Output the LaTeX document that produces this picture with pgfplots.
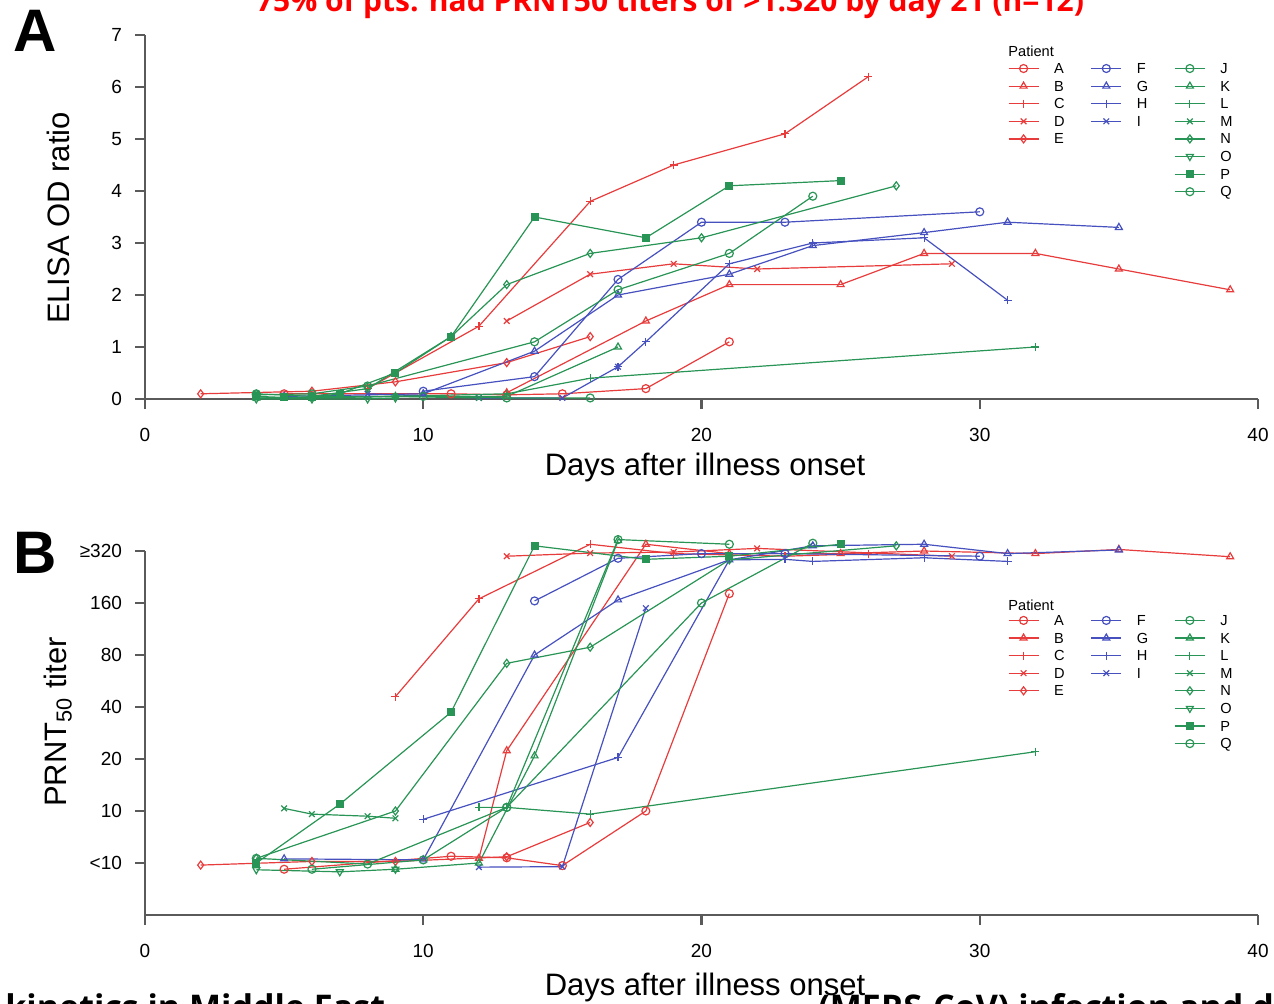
\documentclass[border=0pt]{standalone}
\usepackage{fontspec}
\setmainfont{Liberation Sans}
\newfontfamily\titlefont{Open Sans}
\usepackage{pgfplots}
\pgfplotsset{compat=1.18}
\definecolor{cr}{RGB}{232,60,60}
\definecolor{cb}{RGB}{70,80,190}
\definecolor{cg}{RGB}{40,148,85}
\definecolor{axgray}{RGB}{90,90,90}
\pgfplotsset{
  sA/.style={cr,mark=o}, sB/.style={cr,mark=triangle}, sC/.style={cr,mark=+},
  sD/.style={cr,mark=x}, sE/.style={cr,mark=diamond},
  sF/.style={cb,mark=o}, sG/.style={cb,mark=triangle}, sH/.style={cb,mark=+}, sI/.style={cb,mark=x},
  sJ/.style={cg,mark=o}, sK/.style={cg,mark=triangle}, sL/.style={cg,mark=+}, sM/.style={cg,mark=x},
  sN/.style={cg,mark=diamond}, sO/.style={cg,mark=triangle,mark options={rotate=180}},
  sP/.style={cg,mark=square*,mark size=1.7pt}, sQ/.style={cg,mark=o},
  panel/.style={
    scale only axis, width=556.5pt, height=182pt, xmin=0, xmax=40,
    axis x line*=bottom, axis y line*=left,
    axis line style={axgray,line width=1.1pt},
    every tick/.style={axgray,line width=1.1pt},
    major tick length=5pt, tick align=outside,
    xtick={0,10,20,30,40},
    ticklabel style={font=\fontsize{9.5}{10}\selectfont},
    xticklabel style={yshift=-6pt},
    yticklabel style={xshift=-3pt},
    /pgf/number format/assume math mode=true,
    clip=false,
    every axis plot/.append style={line width=0.6pt, mark size=2pt},
    legend image code/.code={\draw[mark repeat=2,mark phase=2,##1] plot coordinates {(0pt,0pt) (7.5pt,0pt) (15pt,0pt)};},
    legend columns=8, transpose legend, legend cell align=left,
    legend style={draw=none, fill=none, anchor=north west, inner sep=0pt,
      font=\fontsize{7.3}{7.3}\selectfont, row sep=2.2pt,
      nodes={inner sep=0.5pt, text height=5.3pt, text depth=0.3pt},
      /tikz/every odd column/.append style={column sep=7pt},
      /tikz/every even column/.append style={column sep=12.5pt}},
  }
}
\newcommand{\patientlegend}{%
  \addlegendimage{sA}\addlegendentry{A}
  \addlegendimage{sB}\addlegendentry{B}
  \addlegendimage{sC}\addlegendentry{C}
  \addlegendimage{sD}\addlegendentry{D}
  \addlegendimage{sE}\addlegendentry{E}
  \addlegendimage{empty legend}\addlegendentry{}
  \addlegendimage{empty legend}\addlegendentry{}
  \addlegendimage{empty legend}\addlegendentry{}
  \addlegendimage{sF}\addlegendentry{F}
  \addlegendimage{sG}\addlegendentry{G}
  \addlegendimage{sH}\addlegendentry{H}
  \addlegendimage{sI}\addlegendentry{I}
  \addlegendimage{empty legend}\addlegendentry{}
  \addlegendimage{empty legend}\addlegendentry{}
  \addlegendimage{empty legend}\addlegendentry{}
  \addlegendimage{empty legend}\addlegendentry{}
  \addlegendimage{sJ}\addlegendentry{J}
  \addlegendimage{sK}\addlegendentry{K}
  \addlegendimage{sL}\addlegendentry{L}
  \addlegendimage{sM}\addlegendentry{M}
  \addlegendimage{sN}\addlegendentry{N}
  \addlegendimage{sO}\addlegendentry{O}
  \addlegendimage{sP}\addlegendentry{P}
  \addlegendimage{sQ}\addlegendentry{Q}
}
\begin{document}
\begin{tikzpicture}
% ---------- Panel A ----------
\begin{axis}[panel, at={(72.5pt,302pt)}, anchor=south west,
  ymin=0, ymax=7, ytick={0,1,...,7},
  legend style={at={(axis cs:31,6.49)}}]
\addplot[sA,forget plot] coordinates {(5,0.1) (11,0.1) (13,0.08) (15,0.1) (18,0.2) (21,1.1)};
\addplot[sB,forget plot] coordinates {(13,0.12) (18,1.5) (21,2.2) (25,2.2) (28,2.8) (32,2.8) (35,2.5) (39,2.1)};
\addplot[sC,forget plot] coordinates {(8,0.2) (12,1.4) (16,3.8) (19,4.5) (23,5.1) (26,6.2)};
\addplot[sD,forget plot] coordinates {(13,1.5) (16,2.4) (19,2.6) (22,2.5) (29,2.6)};
\addplot[sE,forget plot] coordinates {(2,0.1) (6,0.15) (9,0.33) (13,0.7) (16,1.2)};
\addplot[sF,forget plot] coordinates {(10,0.15) (14,0.43) (17,2.3) (20,3.4) (23,3.4) (30,3.6)};
\addplot[sG,forget plot] coordinates {(5,0.05) (10,0.1) (14,0.92) (17,2.0) (21,2.4) (24,2.95) (28,3.2) (31,3.4) (35,3.3)};
\addplot[sH,forget plot] coordinates {(17,0.62) (18,1.1) (21,2.6) (24,3.0) (28,3.1) (31,1.9)};
\addplot[sI,forget plot] coordinates {(8,0.1) (12,0.02) (15,0.02) (17,0.62)};
\addplot[sJ,forget plot] coordinates {(4,0.1) (6,0.05) (10,0.05) (13,0.02) (16,0.02)};
\addplot[sK,forget plot] coordinates {(4,0.02) (9,0.05) (13,0.05) (17,1.0)};
\addplot[sL,forget plot] coordinates {(9,0.05) (13,0.1) (16,0.4) (32,1.0)};
\addplot[sM,forget plot] coordinates {(4,0.02) (6,0.02) (9,0.05) (12,0.02)};
\addplot[sN,forget plot] coordinates {(6,0.05) (8,0.2) (11,1.2) (13,2.2) (16,2.8) (20,3.1) (27,4.1)};
\addplot[sO,forget plot] coordinates {(4,0.0) (6,0.0) (8,0.0) (9,0.02)};
\addplot[sP,forget plot] coordinates {(4,0.05) (5,0.03) (6,0.03) (7,0.1) (9,0.5) (11,1.2) (14,3.5) (18,3.1) (21,4.1) (25,4.2)};
\addplot[sQ,forget plot] coordinates {(4,0.08) (6,0.1) (8,0.25) (14,1.1) (17,2.1) (21,2.8) (24,3.9)};
\patientlegend
\end{axis}
% ---------- Panel B ----------
\begin{axis}[panel, at={(72.5pt,44pt)}, anchor=south west,
  ymin=-1, ymax=6, ytick={0,1,...,6},
  yticklabels={<10,10,20,40,80,160,≥320},
  legend style={at={(axis cs:31,4.8)}}]
\addplot[sA,forget plot] coordinates {(5,-0.12) (11,0.13) (13,0.1) (15,-0.05) (18,1.0) (21,5.18)};
\addplot[sB,forget plot] coordinates {(12,0.09) (13,2.16) (18,6.13) (21,5.95) (25,5.95) (28,6.0) (32,5.95) (35,6.03) (39,5.89)};
\addplot[sC,forget plot] coordinates {(9,3.2) (12,5.08) (16,6.13) (19,5.95) (23,5.9) (26,5.95)};
\addplot[sD,forget plot] coordinates {(13,5.9) (16,5.96) (19,5.98) (22,6.05) (29,5.9)};
\addplot[sE,forget plot] coordinates {(2,-0.04) (6,0.03) (9,0.03) (13,0.12) (16,0.78)};
\addplot[sF,forget plot] coordinates {(14,5.04) (17,5.86) (20,5.95) (23,5.95) (30,5.9)};
\addplot[sG,forget plot] coordinates {(5,0.08) (10,0.06) (14,4.0) (17,5.06) (21,5.83) (24,6.1) (28,6.13) (31,5.95) (35,6.02)};
\addplot[sH,forget plot] coordinates {(10,0.84) (17,2.03) (21,5.83) (23,5.84) (24,5.8) (28,5.87) (31,5.8)};
\addplot[sI,forget plot] coordinates {(12,-0.08) (15,-0.07) (18,4.9)};
\addplot[sJ,forget plot] coordinates {(4,0.09) (8,-0.02) (13,1.07) (17,6.22) (21,6.13)};
\addplot[sK,forget plot] coordinates {(9,-0.12) (12,0.0) (14,2.06) (17,6.2)};
\addplot[sL,forget plot] coordinates {(12,1.07) (13,1.07) (16,0.94) (32,2.14)};
\addplot[sM,forget plot] coordinates {(5,1.05) (6,0.94) (8,0.9) (9,0.86)};
\addplot[sN,forget plot] coordinates {(4,0.09) (9,1.0) (13,3.84) (16,4.15) (21,5.83) (27,6.1)};
\addplot[sO,forget plot] coordinates {(4,-0.13) (7,-0.17) (9,-0.12)};
\addplot[sP,forget plot] coordinates {(4,0.0) (7,1.13) (11,2.9) (14,6.1) (18,5.84) (21,5.9) (25,6.13)};
\addplot[sQ,forget plot] coordinates {(6,-0.12) (10,0.06) (13,1.07) (20,5.0) (24,6.15)};
\patientlegend
\end{axis}
% ---------- texts ----------
\node[font=\bfseries\fontsize{30}{30}\selectfont] at (17.5pt,486pt) {A};
\node[font=\bfseries\fontsize{30}{30}\selectfont] at (17.5pt,225pt) {B};
\node[rotate=90, font=\fontsize{15.5}{15.5}\selectfont] at (29pt,392.5pt) {ELISA OD ratio};
\node[rotate=90, font=\fontsize{15.5}{15.5}\selectfont] at (29pt,140.5pt) {PRNT\textsubscript{50} titer};
\node[font=\fontsize{15.5}{15.5}\selectfont] at (352.5pt,268pt) {Days after illness onset};
\node[font=\fontsize{7.3}{7.3}\selectfont, anchor=west, inner sep=0pt] at (504pt,476pt) {Patient};
\node[font=\fontsize{7.3}{7.3}\selectfont, anchor=west, inner sep=0pt] at (504pt,199pt) {Patient};
\node[font=\titlefont\bfseries\fontsize{15}{15}\selectfont, text=red, anchor=base, inner sep=0pt] at (335pt,495.5pt) {75\% of pts. had PRNT50 titers of >1:320 by day 21 (n=12)};
\node[font=\titlefont\bfseries\fontsize{17}{17}\selectfont, anchor=base west, inner sep=0pt] at (2.5pt,-8pt) {\llap{Antibody }kinetics in Middle East};
\node[font=\titlefont\bfseries\fontsize{17}{17}\selectfont, anchor=base west, inner sep=0pt] at (409pt,-8pt) {(MERS-CoV) infection and disease severity};
\node[font=\fontsize{15.5}{15.5}\selectfont] at (352.5pt,8pt) {Days after illness onset};
\pgfresetboundingbox
\useasboundingbox (0pt,0pt) rectangle (637pt,501.5pt);
\end{tikzpicture}
\end{document}
